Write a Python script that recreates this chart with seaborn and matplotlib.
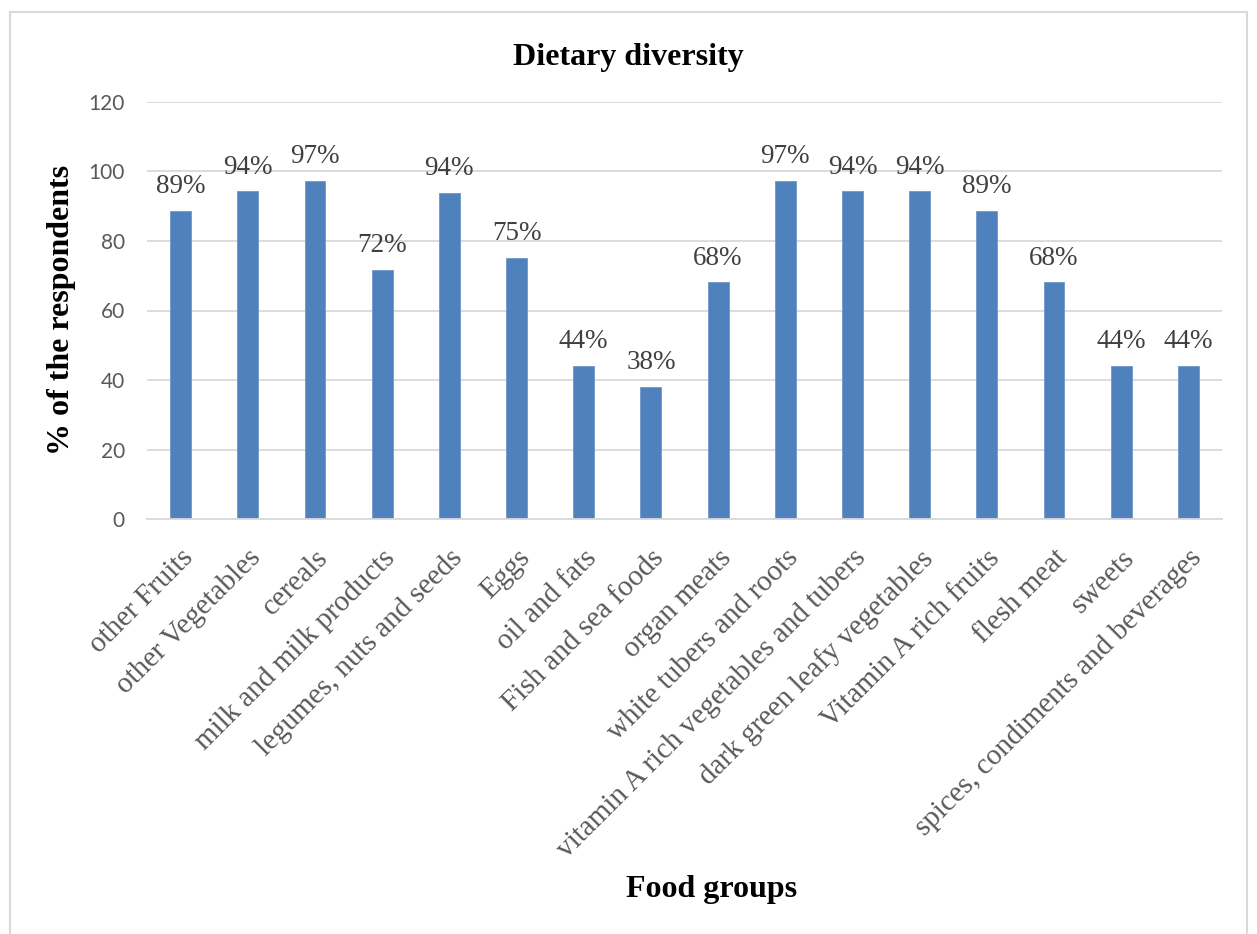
import matplotlib
matplotlib.use("Agg")
import matplotlib.pyplot as plt
from matplotlib.patches import Rectangle
import seaborn as sns

# Food groups and share of respondents (%) consuming each
food_groups = [
    "other Fruits", "other Vegetables", "cereals", "milk and milk products",
    "legumes, nuts and seeds", "Eggs", "oil and fats", "Fish and sea foods",
    "organ meats", "white tubers and roots", "vitamin A rich vegetables and tubers",
    "dark green leafy vegetables", "Vitamin A rich fruits", "flesh meat",
    "sweets", "spices, condiments and beverages",
]
percent_respondents = [
    88.6, 94.2, 97.3, 71.6, 93.8, 75.2, 44.0, 38.0,
    68.1, 97.3, 94.2, 94.2, 88.6, 68.1, 44.0, 44.0,
]
y_ticks = [0, 20, 40, 60, 80, 100, 120]

sns.set_style("white")
serif = ["Liberation Serif", "DejaVu Serif"]
sans = ["Lato", "DejaVu Sans"]

W, H = 1257, 934
fig = plt.figure(figsize=(W / 100, H / 100), dpi=100)
ax = fig.add_axes([147 / W, 1 - 519.3 / H, 1075 / W, (519.3 - 101.7) / H])

bar_color = "#4F81BD"
sns.barplot(x=food_groups, y=percent_respondents, color=bar_color,
            saturation=1, width=0.31, ax=ax, edgecolor="#6E96CB", linewidth=0.6)

ax.set_ylim(0, 120)
ax.set_xlim(-0.5, len(food_groups) - 0.5)
ax.set_yticks(y_ticks)
ax.set_yticklabels([str(t) for t in y_ticks], fontfamily=sans, fontsize=15,
                   color="#595959")
ax.tick_params(axis="y", length=0, pad=16)

ax.yaxis.grid(True, color="#D9D9D9", linewidth=1.3)
ax.xaxis.grid(False)
ax.set_axisbelow(True)
for side in ("left", "right", "top"):
    ax.spines[side].set_visible(False)
ax.spines["bottom"].set_color("#D9D9D9")
ax.spines["bottom"].set_linewidth(1.3)

# value labels on top of each bar
labels = [f"{v:.0f}%" for v in percent_respondents]
ax.bar_label(ax.containers[0], labels=labels, padding=8.5,
             fontfamily=serif, fontsize=19.5, color="#404040")

# slanted category labels, anchored at their upper-right end
ax.set_xticks(range(len(food_groups)))
ax.set_xticklabels(food_groups, rotation=45, ha="right", va="top",
                   rotation_mode="anchor", fontfamily=serif, fontsize=21,
                   color="#595959")
ax.tick_params(axis="x", length=0, pad=18.5)
ax.set_xlabel("")
ax.set_ylabel("")

fig.text(0.5, 1 - 65 / H, "Dietary diversity", ha="center", va="baseline",
         fontfamily=serif, fontsize=23, fontweight="bold", color="black")
fig.text(62 / W, 1 - 310 / H, "% of the respondents", rotation=90,
         ha="center", va="center", fontfamily=serif, fontsize=23,
         fontweight="bold", color="black")
fig.text(712 / W, 1 - 897 / H, "Food groups", ha="center", va="baseline",
         fontfamily=serif, fontsize=23, fontweight="bold", color="black")

# chart frame
fig.add_artist(Rectangle((10 / W, -0.05), 1237 / W, 1.05 - 12 / H,
                         transform=fig.transFigure, fill=False,
                         edgecolor="#D9D9D9", linewidth=1.5))

fig.savefig("out.png", dpi=100, facecolor="white")
